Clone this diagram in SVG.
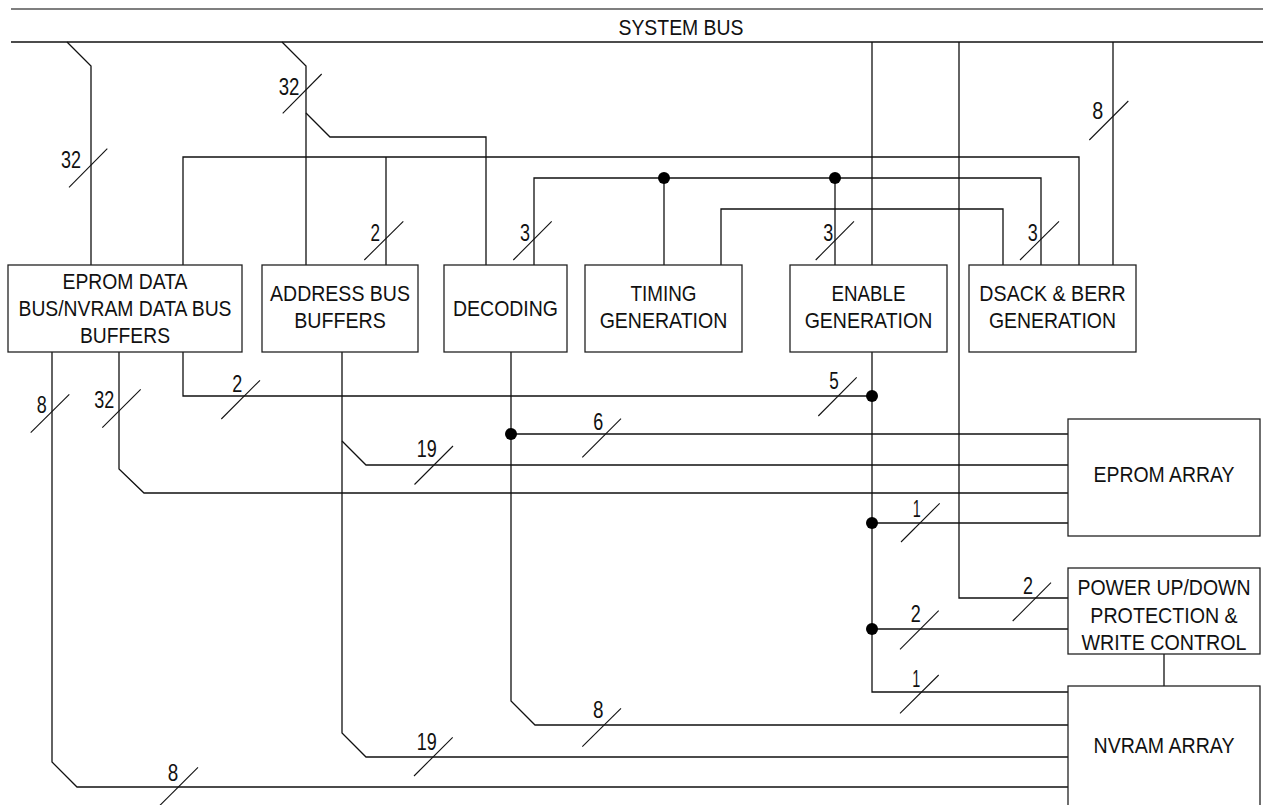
<svg xmlns="http://www.w3.org/2000/svg" width="1263" height="805" viewBox="0 0 1263 805">
<style>
.ln{fill:none;stroke:#111;stroke-width:1.3}
.sl{fill:none;stroke:#111;stroke-width:1.1}
.box{fill:#fff;stroke:#222;stroke-width:1.3}
.t{font-family:"Liberation Sans Narrow","Liberation Sans",Arial,sans-serif;font-size:22px;fill:#111;text-anchor:middle}
.n{font-family:"Liberation Sans Narrow","Liberation Sans",Arial,sans-serif;font-size:23px;fill:#111;text-anchor:middle}
.dot{fill:#000}
</style>
<rect width="1263" height="805" fill="#fff"/>
<g id="system-bus">
<line x1="11" y1="9" x2="1263" y2="9" stroke="#555" stroke-width="1.6"/>
<line x1="11" y1="42" x2="1263" y2="42" stroke="#111" stroke-width="1.3"/>
<text class="t" x="681" y="35" textLength="125" lengthAdjust="spacingAndGlyphs">SYSTEM BUS</text>
</g>
<g id="connectors">
<polyline class="ln" points="67,42 91,66 91,265"/>
<polyline class="ln" points="282,42 306,66 306,265"/>
<polyline class="ln" points="306,113 330,137 486,137 486,265"/>
<polyline class="ln" points="183,265 183,157 1079,157 1079,265"/>
<polyline class="ln" points="386,157 386,265"/>
<polyline class="ln" points="534,265 534,178 1041,178 1041,265"/>
<polyline class="ln" points="664,178 664,265"/>
<polyline class="ln" points="835,178 835,265"/>
<polyline class="ln" points="721,265 721,209 1003,209 1003,265"/>
<polyline class="ln" points="872,42 872,265"/>
<polyline class="ln" points="959,42 959,598 1068,598"/>
<polyline class="ln" points="1113,42 1113,265"/>
<polyline class="ln" points="52,352 52,762 77,787 1068,787"/>
<polyline class="ln" points="119,352 119,469 144,493 1068,493"/>
<polyline class="ln" points="183,352 183,396 872,396"/>
<polyline class="ln" points="872,352 872,692 1068,692"/>
<polyline class="ln" points="872,523 1068,523"/>
<polyline class="ln" points="872,629 1068,629"/>
<polyline class="ln" points="511,352 511,701 535,725 1068,725"/>
<polyline class="ln" points="511,434 1068,434"/>
<polyline class="ln" points="342,352 342,733 366,757 1068,757"/>
<polyline class="ln" points="342,441 366,465 1068,465"/>
<polyline class="ln" points="1164,654 1164,686"/>
<circle class="dot" cx="664" cy="178" r="6"/>
<circle class="dot" cx="835" cy="178" r="6"/>
<circle class="dot" cx="872" cy="396" r="6"/>
<circle class="dot" cx="511" cy="434" r="6"/>
<circle class="dot" cx="872" cy="523" r="6"/>
<circle class="dot" cx="872" cy="629" r="6"/>
<line class="sl" x1="69" y1="187.3" x2="107.3" y2="148.7"/>
<line class="sl" x1="282.7" y1="113.3" x2="321.7" y2="74"/>
<line class="sl" x1="364.3" y1="260" x2="403.3" y2="221.3"/>
<line class="sl" x1="513.3" y1="260" x2="551.7" y2="221.3"/>
<line class="sl" x1="815.7" y1="260" x2="854" y2="221.3"/>
<line class="sl" x1="1020" y1="260" x2="1059" y2="221.3"/>
<line class="sl" x1="1089.3" y1="140" x2="1128.3" y2="101"/>
<line class="sl" x1="30.7" y1="432.7" x2="69.3" y2="394.3"/>
<line class="sl" x1="102.3" y1="427.7" x2="140.7" y2="389.3"/>
<line class="sl" x1="221.3" y1="419" x2="260" y2="380.3"/>
<line class="sl" x1="818.3" y1="416" x2="856.7" y2="377.3"/>
<line class="sl" x1="582.3" y1="457.3" x2="621" y2="418.7"/>
<line class="sl" x1="414.5" y1="484.5" x2="453" y2="446"/>
<line class="sl" x1="414" y1="776" x2="452.7" y2="737.3"/>
<line class="sl" x1="901" y1="542" x2="939.7" y2="503.3"/>
<line class="sl" x1="900" y1="649.3" x2="938.7" y2="610.7"/>
<line class="sl" x1="900" y1="713.3" x2="938.7" y2="675"/>
<line class="sl" x1="1012.7" y1="621" x2="1051" y2="582.7"/>
<line class="sl" x1="582.3" y1="746.7" x2="621" y2="708.3"/>
<line class="sl" x1="159.3" y1="806" x2="198" y2="767.3"/>
<text class="n" x="71" y="168" textLength="20" lengthAdjust="spacingAndGlyphs">32</text>
<text class="n" x="289" y="95" textLength="20.7" lengthAdjust="spacingAndGlyphs">32</text>
<text class="n" x="375.3" y="240.7" textLength="9.5" lengthAdjust="spacingAndGlyphs">2</text>
<text class="n" x="525" y="240.7" textLength="10" lengthAdjust="spacingAndGlyphs">3</text>
<text class="n" x="828.3" y="240.7" textLength="10" lengthAdjust="spacingAndGlyphs">3</text>
<text class="n" x="1032.7" y="240.7" textLength="10" lengthAdjust="spacingAndGlyphs">3</text>
<text class="n" x="1097.8" y="119" textLength="11" lengthAdjust="spacingAndGlyphs">8</text>
<text class="n" x="41.7" y="413.3" textLength="10" lengthAdjust="spacingAndGlyphs">8</text>
<text class="n" x="104.3" y="408.3" textLength="20" lengthAdjust="spacingAndGlyphs">32</text>
<text class="n" x="237.3" y="391.7" textLength="10" lengthAdjust="spacingAndGlyphs">2</text>
<text class="n" x="834" y="388.5" textLength="9.5" lengthAdjust="spacingAndGlyphs">5</text>
<text class="n" x="598.3" y="430" textLength="10" lengthAdjust="spacingAndGlyphs">6</text>
<text class="n" x="426.7" y="457" textLength="20" lengthAdjust="spacingAndGlyphs">19</text>
<text class="n" x="426.7" y="750" textLength="20" lengthAdjust="spacingAndGlyphs">19</text>
<text class="n" x="916.7" y="516.7" textLength="8" lengthAdjust="spacingAndGlyphs">1</text>
<text class="n" x="1028" y="594" textLength="10" lengthAdjust="spacingAndGlyphs">2</text>
<text class="n" x="915.7" y="621.7" textLength="10" lengthAdjust="spacingAndGlyphs">2</text>
<text class="n" x="916.2" y="686.7" textLength="8" lengthAdjust="spacingAndGlyphs">1</text>
<text class="n" x="598.3" y="718.3" textLength="10.5" lengthAdjust="spacingAndGlyphs">8</text>
<text class="n" x="173" y="780.7" textLength="10.5" lengthAdjust="spacingAndGlyphs">8</text>
</g>
<g id="eprom-data-buffers">
<rect class="box" x="8" y="265" width="234" height="87"/>
<text class="t" x="125" y="289" textLength="125" lengthAdjust="spacingAndGlyphs">EPROM DATA</text>
<text class="t" x="125" y="316" textLength="213" lengthAdjust="spacingAndGlyphs">BUS/NVRAM DATA BUS</text>
<text class="t" x="125" y="343" textLength="90" lengthAdjust="spacingAndGlyphs">BUFFERS</text>
</g>
<g id="address-bus-buffers">
<rect class="box" x="262" y="265" width="156" height="87"/>
<text class="t" x="340" y="301" textLength="140" lengthAdjust="spacingAndGlyphs">ADDRESS BUS</text>
<text class="t" x="340" y="327.5" textLength="91.7" lengthAdjust="spacingAndGlyphs">BUFFERS</text>
</g>
<g id="decoding">
<rect class="box" x="444" y="265" width="123" height="87"/>
<text class="t" x="505.5" y="316" textLength="105" lengthAdjust="spacingAndGlyphs">DECODING</text>
</g>
<g id="timing-generation">
<rect class="box" x="585" y="265" width="157" height="87"/>
<text class="t" x="663.5" y="301" textLength="66" lengthAdjust="spacingAndGlyphs">TIMING</text>
<text class="t" x="663.5" y="328" textLength="127.7" lengthAdjust="spacingAndGlyphs">GENERATION</text>
</g>
<g id="enable-generation">
<rect class="box" x="790" y="265" width="157" height="87"/>
<text class="t" x="868.5" y="301" textLength="74" lengthAdjust="spacingAndGlyphs">ENABLE</text>
<text class="t" x="868.5" y="328" textLength="127.7" lengthAdjust="spacingAndGlyphs">GENERATION</text>
</g>
<g id="dsack-berr-generation">
<rect class="box" x="969" y="265" width="167" height="87"/>
<text class="t" x="1052.5" y="301" textLength="146.3" lengthAdjust="spacingAndGlyphs">DSACK &amp; BERR</text>
<text class="t" x="1052.5" y="328" textLength="127" lengthAdjust="spacingAndGlyphs">GENERATION</text>
</g>
<g id="eprom-array">
<rect class="box" x="1068" y="419" width="192" height="117"/>
<text class="t" x="1164" y="482" textLength="141" lengthAdjust="spacingAndGlyphs">EPROM ARRAY</text>
</g>
<g id="power-protection">
<rect class="box" x="1068" y="568" width="192" height="86"/>
<text class="t" x="1164" y="595" textLength="173" lengthAdjust="spacingAndGlyphs">POWER UP/DOWN</text>
<text class="t" x="1164" y="622.7" textLength="147.3" lengthAdjust="spacingAndGlyphs">PROTECTION &amp;</text>
<text class="t" x="1164" y="650" textLength="165" lengthAdjust="spacingAndGlyphs">WRITE CONTROL</text>
</g>
<g id="nvram-array">
<rect class="box" x="1068" y="686" width="192" height="130"/>
<text class="t" x="1164" y="753.3" textLength="141" lengthAdjust="spacingAndGlyphs">NVRAM ARRAY</text>
</g>
</svg>
